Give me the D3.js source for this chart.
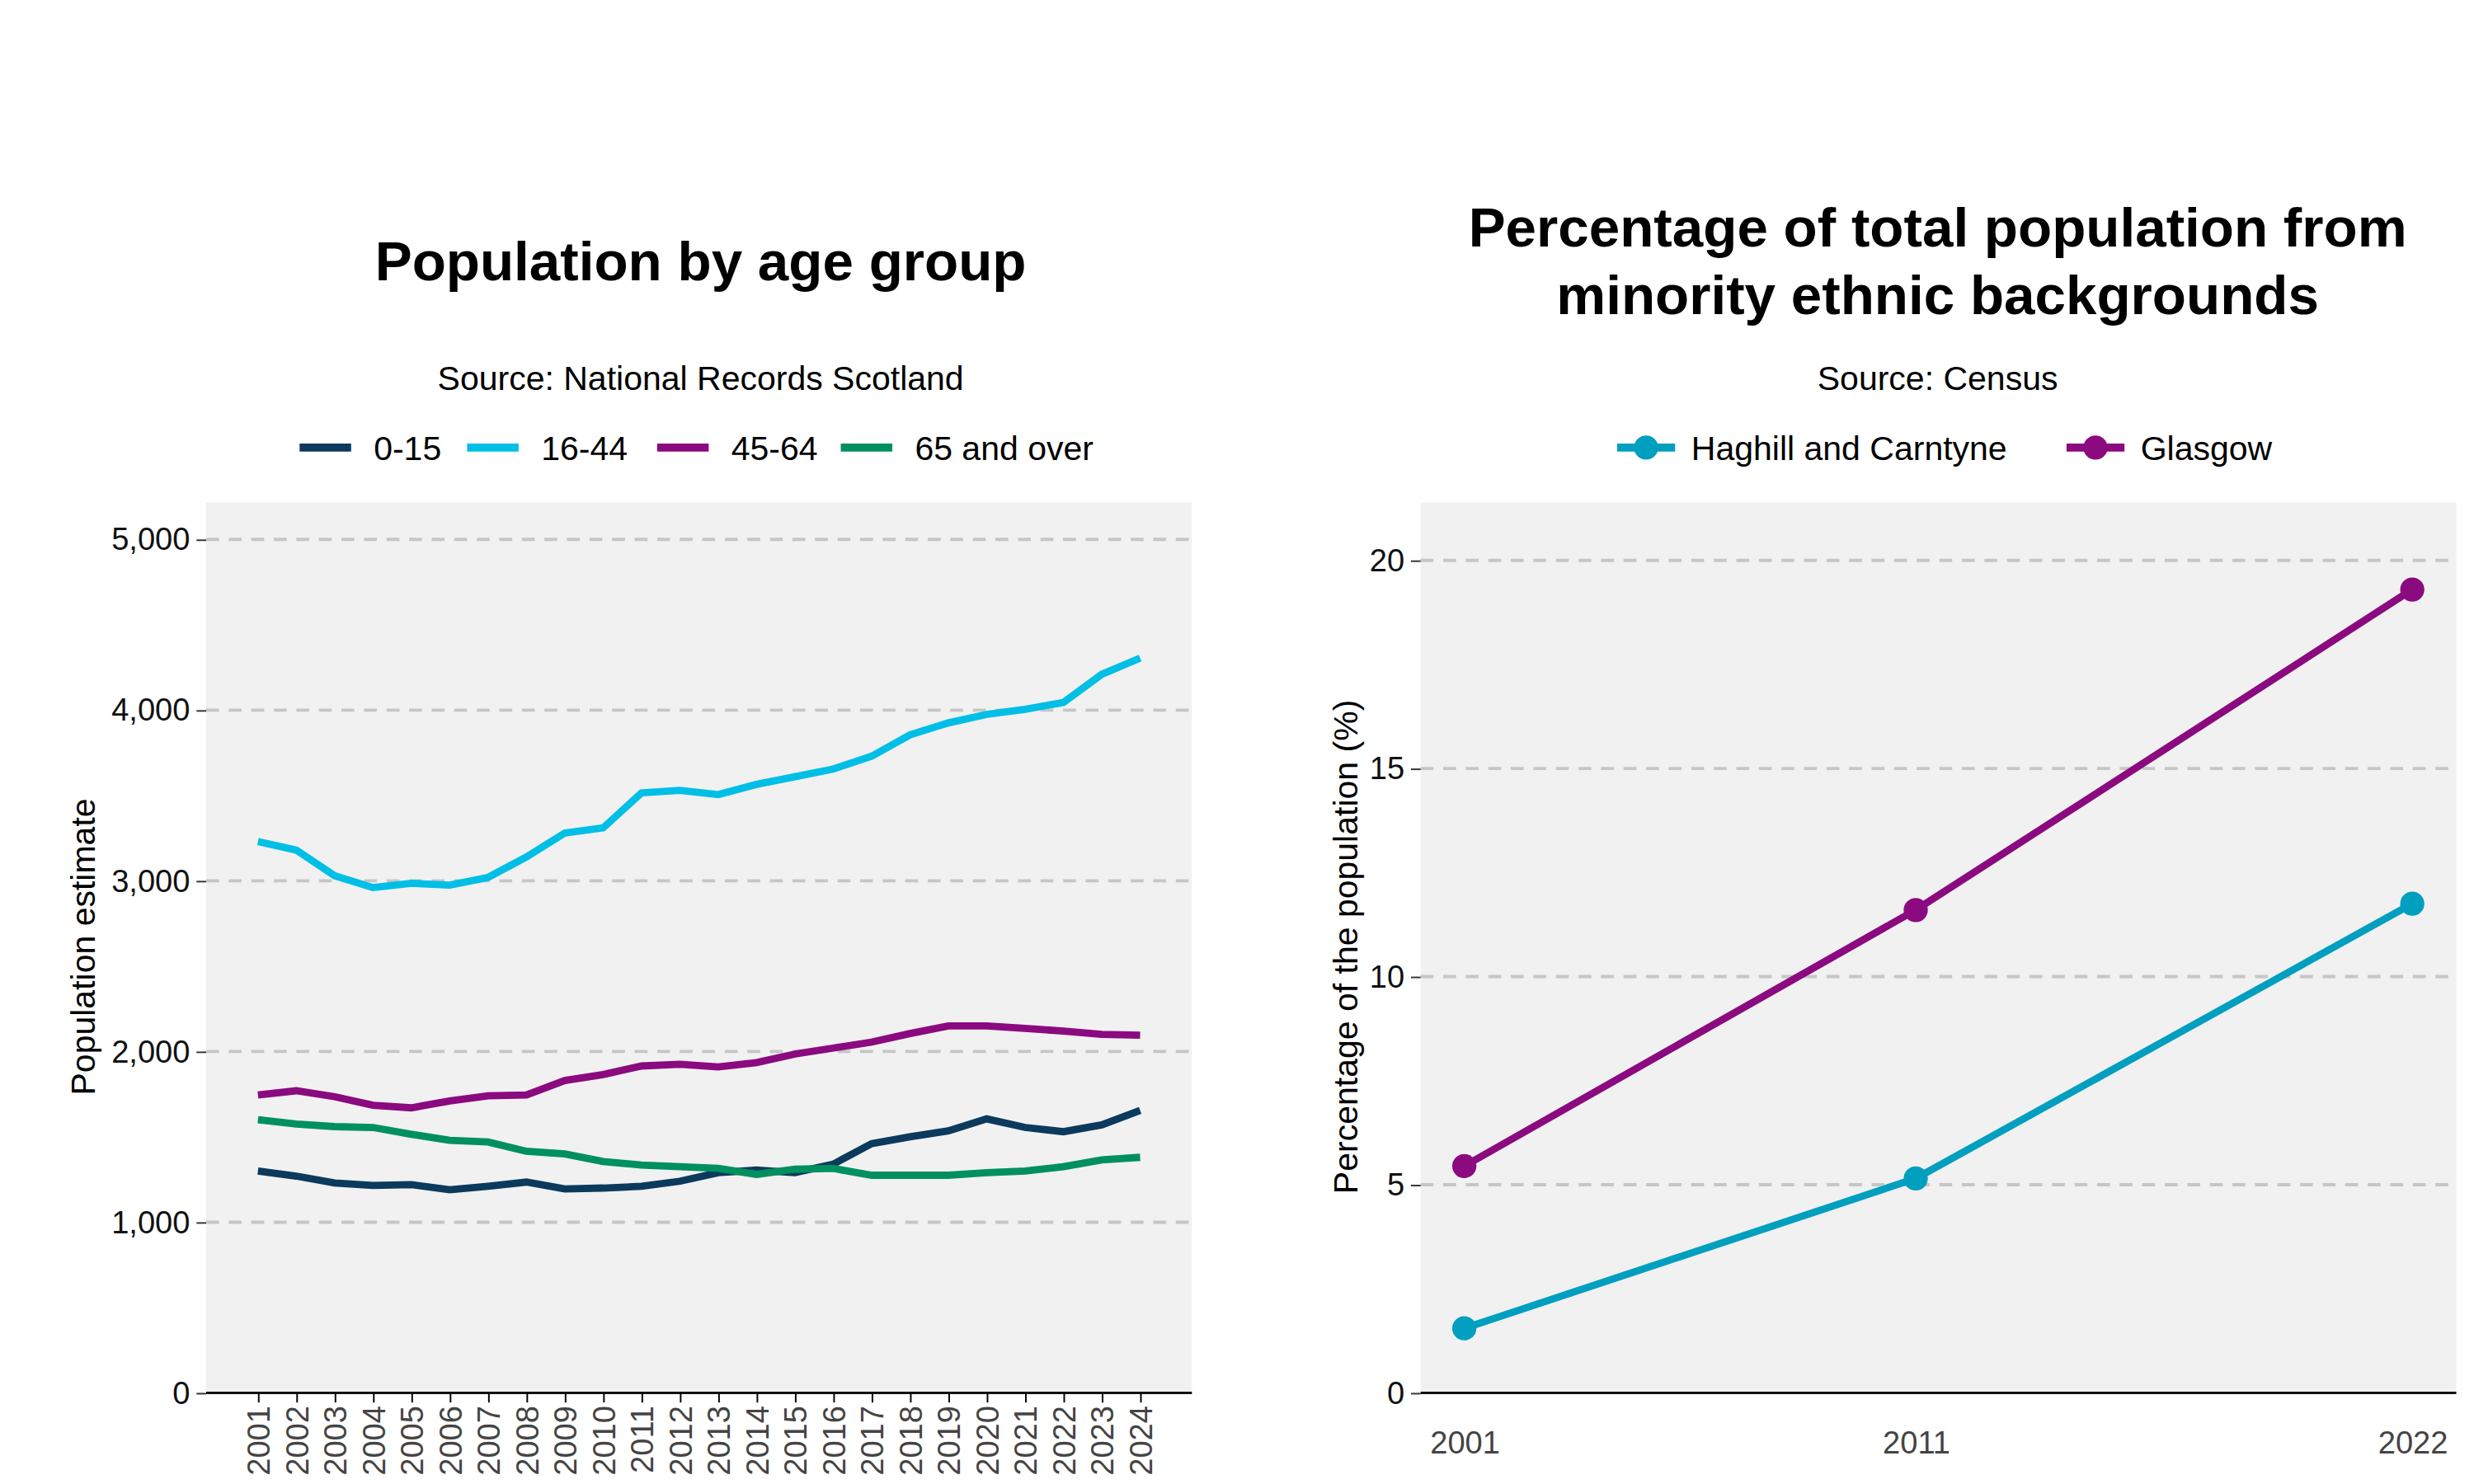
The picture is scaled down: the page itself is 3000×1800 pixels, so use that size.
<!DOCTYPE html>
<html><head><meta charset="utf-8">
<script src="https://cdn.jsdelivr.net/npm/d3@7"></script>
<style>body{margin:0;background:#fff}svg{font-family:"Liberation Sans",Arial,sans-serif}</style>
</head><body>
<script>
const years=d3.range(2001,2025);
const ageGroups=["0-15","16-44","45-64","65 and over"];
const ageColors=["#0b3a5c","#00bfe6","#8b0a7f","#00905f"];
const v0_15=[1300,1270,1230,1215,1220,1190,1210,1235,1195,1200,1210,1240,1290,1305,1290,1340,1460,1500,1535,1605,1555,1530,1570,1655];
const v16_44=[3230,3180,3030,2960,2985,2975,3020,3140,3280,3310,3515,3530,3505,3565,3610,3655,3730,3855,3925,3975,4005,4045,4210,4305];
const v45_64=[1745,1770,1735,1685,1670,1710,1740,1745,1830,1865,1915,1925,1910,1935,1985,2020,2055,2105,2150,2150,2135,2120,2100,2095];
const v65=[1600,1575,1560,1555,1515,1480,1470,1415,1400,1355,1335,1325,1315,1280,1310,1315,1275,1275,1275,1290,1300,1325,1365,1380];
const ageSeries=[v0_15,v16_44,v45_64,v65];
const yTicksL=[0,1000,2000,3000,4000,5000];
const censusYears=[2001,2011,2022];
const ethNames=["Haghill and Carntyne","Glasgow"];
const ethColors=["#009fc0","#8b0a7f"];
const haghill=[1.55,5.15,11.75];
const glasgow=[5.45,11.6,19.3];
const ethSeries=[haghill,glasgow];
const yTicksR=[0,5,10,15,20];

const svg=d3.select("body").append("svg").attr("width",3000).attr("height",1800).attr("viewBox","0 0 1536 921.6");

function grid(g,y,ticks,x0,x1){
  g.selectAll(".gl").data(ticks).join("line").attr("x1",x0).attr("x2",x1)
   .attr("y1",d=>y(d)).attr("y2",d=>y(d)).attr("stroke","#c6c6c6").attr("stroke-width",2).attr("stroke-dasharray","8,6");
}
const TF=19.5, LF=21;
// LEFT
{
  const L=128,R=740,T=312,B=865;
  const g=svg.append("g");
  g.append("rect").attr("x",L).attr("y",T).attr("width",R-L).attr("height",B-T).attr("fill","#f1f1f1");
  const x=d3.scalePoint().domain(years).range([L,R]).padding(1.35);
  const y=d3.scaleLinear().domain([0,5000]).range([B,335]);
  grid(g,y,yTicksL.filter(d=>d>0),L,R);
  const ya=g.append("g").attr("transform",`translate(${L},0)`).call(d3.axisLeft(y).tickValues(yTicksL).tickFormat(d3.format(",")).tickSize(6).tickPadding(4));
  ya.select(".domain").remove();ya.selectAll("text").attr("font-size",TF).attr("fill","#111");ya.selectAll("line").attr("stroke","#333");
  const xa=g.append("g").attr("transform",`translate(0,${B})`).call(d3.axisBottom(x).tickSize(6));
  xa.select(".domain").attr("d",`M${L},0H${R}`).attr("stroke","#111").attr("stroke-width",1.5);
  xa.selectAll("text").attr("font-size",TF).attr("fill","#444").attr("transform","rotate(-90)").attr("text-anchor","end").attr("x",-8).attr("y",0).attr("dy","0.35em");
  const line=d3.line().x((d,i)=>x(years[i])).y(d=>y(d));
  ageSeries.forEach((s,i)=>g.append("path").attr("d",line(s)).attr("fill","none").attr("stroke",ageColors[i]).attr("stroke-width",4.5));
  g.append("text").attr("x",435).attr("y",174).attr("text-anchor","middle").attr("font-size",34.5).attr("font-weight","bold").text("Population by age group");
  g.append("text").attr("x",435).attr("y",242).attr("text-anchor","middle").attr("font-size",LF).text("Source: National Records Scotland");
  g.append("text").attr("transform","translate(59,588) rotate(-90)").attr("text-anchor","middle").attr("font-size",LF).text("Population estimate");
  const lx=[186,290,408,522];
  ageGroups.forEach((n,i)=>{
    g.append("line").attr("x1",lx[i]).attr("x2",lx[i]+32).attr("y1",278).attr("y2",278).attr("stroke",ageColors[i]).attr("stroke-width",5);
    g.append("text").attr("x",lx[i]+46).attr("y",285.5).attr("font-size",LF).text(n);
  });
}
// RIGHT
{
  const L=882,R=1525,T=312,B=865;
  const g=svg.append("g");
  g.append("rect").attr("x",L).attr("y",T).attr("width",R-L).attr("height",B-T).attr("fill","#f1f1f1");
  const x=d3.scaleLinear().domain([2000,2023]).range([L-0.9,R+0.7]);
  const y=d3.scaleLinear().domain([0,20]).range([B,348]);
  grid(g,y,yTicksR.filter(d=>d>0),L,R);
  const ya=g.append("g").attr("transform",`translate(${L},0)`).call(d3.axisLeft(y).tickValues(yTicksR).tickSize(6).tickPadding(4));
  ya.select(".domain").remove();ya.selectAll("text").attr("font-size",TF).attr("fill","#111");ya.selectAll("line").attr("stroke","#333");
  const xa=g.append("g").attr("transform",`translate(0,${B})`).call(d3.axisBottom(x).tickValues(censusYears).tickFormat(d3.format("d")).tickSize(0).tickPadding(24));
  xa.select(".domain").attr("d",`M${L},0H${R}`).attr("stroke","#111").attr("stroke-width",1.5);
  xa.selectAll("text").attr("font-size",TF).attr("fill","#444");
  const line=d3.line().x((d,i)=>x(censusYears[i])).y(d=>y(d));
  ethSeries.forEach((s,i)=>{
    g.append("path").attr("d",line(s)).attr("fill","none").attr("stroke",ethColors[i]).attr("stroke-width",4.5);
    g.selectAll(null).data(s).join("circle").attr("cx",(d,j)=>x(censusYears[j])).attr("cy",d=>y(d)).attr("r",7.5).attr("fill",ethColors[i]);
  });
  g.append("text").attr("x",1203).attr("y",153).attr("text-anchor","middle").attr("font-size",34.5).attr("font-weight","bold").text("Percentage of total population from");
  g.append("text").attr("x",1203).attr("y",195).attr("text-anchor","middle").attr("font-size",34.5).attr("font-weight","bold").text("minority ethnic backgrounds");
  g.append("text").attr("x",1203).attr("y",242).attr("text-anchor","middle").attr("font-size",LF).text("Source: Census");
  g.append("text").attr("transform","translate(843,588) rotate(-90)").attr("text-anchor","middle").attr("font-size",LF).text("Percentage of the population (%)");
  const lx=[1004,1283];
  ethNames.forEach((n,i)=>{
    g.append("line").attr("x1",lx[i]).attr("x2",lx[i]+36).attr("y1",278).attr("y2",278).attr("stroke",ethColors[i]).attr("stroke-width",5);
    g.append("circle").attr("cx",lx[i]+18).attr("cy",278).attr("r",7.5).attr("fill",ethColors[i]);
    g.append("text").attr("x",lx[i]+46).attr("y",285.5).attr("font-size",LF).text(n);
  });
}
</script>
</body></html>
